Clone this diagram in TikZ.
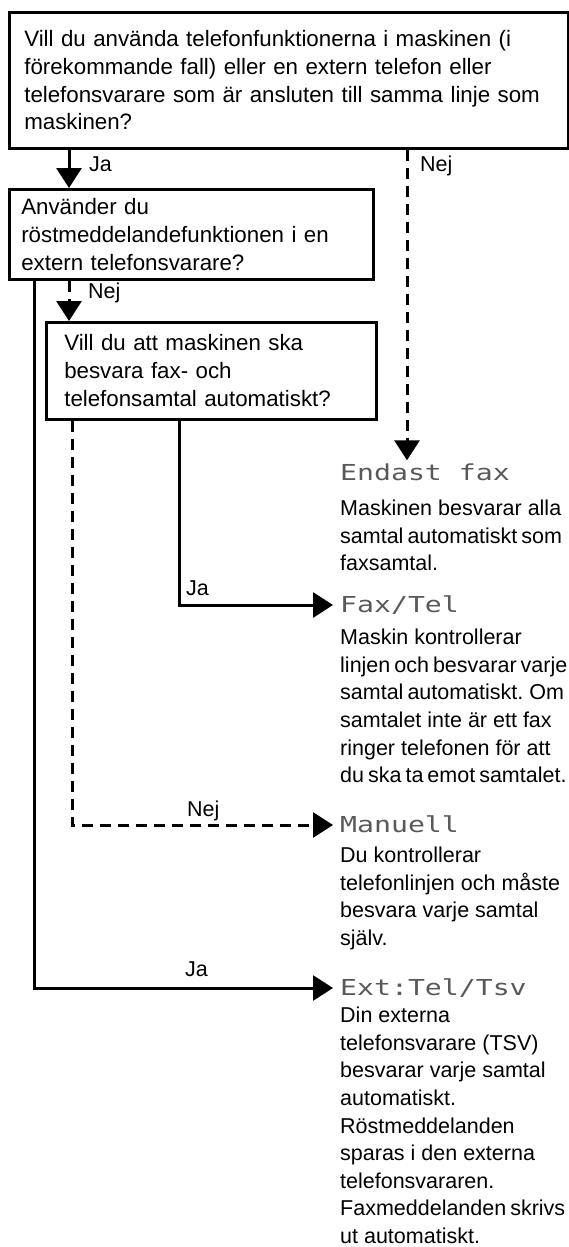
\documentclass[tikz,border=0pt]{standalone}
\usepackage{fontspec}
\setmainfont{Liberation Sans}
\newfontfamily\lcdfont{DejaVu Sans Mono}
\usepackage{graphicx}
\usetikzlibrary{arrows.meta}
\newcommand{\tightsp}[1]{{\spaceskip=4pt plus 1pt\relax #1}}
\newcommand{\lcd}[1]{\scalebox{1.28}[1]{#1}}
\begin{document}
\begin{tikzpicture}[x=1pt,y=-1pt,
  txt/.style={font=\fontsize{21.5pt}{27.6pt}\selectfont},
  boxtxt/.style={font=\fontsize{22.3pt}{27.8pt}\selectfont},
  qbox/.style={draw, line width=2.6pt, align=left, inner ysep=0pt, boxtxt, anchor=north west},
  ttl/.style={font=\fontsize{22pt}{22pt}\selectfont\lcdfont, text=black!65, inner sep=0pt, text height=15pt, text depth=0pt, anchor=west},
  desc/.style={txt, align=left, inner sep=0pt, anchor=north west},
  lbl/.style={txt, inner sep=0pt, anchor=base west},
  sol/.style={line width=3pt},
  dsh/.style={line width=3pt, dash pattern=on 11pt off 7pt},
  arr/.style={-{Triangle[length=20pt,width=25pt]}}
]
\useasboundingbox (0,0) rectangle (568,1247);

% question boxes
\node[qbox, minimum width=559pt, minimum height=136pt, inner xsep=15pt, text width=529pt] (b1) at (8,11)
  {Vill du använda telefonfunktionerna i maskinen (i\\förekommande fall) eller en extern telefon eller\\telefonsvarare som är ansluten till samma linje som\\maskinen?};
\node[qbox, minimum width=364pt, minimum height=90pt, inner xsep=12pt, text width=340pt] (b2) at (8,188)
  {Använder du\\röstmeddelandefunktionen i en\\extern telefonsvarare?};
\node[qbox, minimum width=330pt, minimum height=97pt, inner xsep=18pt, text width=294pt] (b3) at (45,321)
  {Vill du att maskinen ska\\besvara fax- och\\telefonsamtal automatiskt?};

% result titles
\node[ttl] (t1) at (340,473) {\lcd{Endast fax}};
\node[ttl] (t2) at (340,605) {\lcd{Fax/Tel}};
\node[ttl] (t3) at (340,825) {\lcd{Manuell}};
\node[ttl] (t4) at (340,988) {\lcd{Ext:Tel/Tsv}};

% result descriptions
\node[desc] (d1) at (340,500)
  {Maskinen besvarar alla\\\tightsp{samtal automatiskt som}\\faxsamtal.};
\node[desc] (d2) at (340,629)
  {Maskin kontrollerar\\\tightsp{linjen och besvarar varje}\\\tightsp{samtal automatiskt. Om}\\samtalet inte är ett fax\\ringer telefonen för att\\\tightsp{du ska ta emot samtalet.}};
\node[desc] (d3) at (340,847)
  {Du kontrollerar\\telefonlinjen och måste\\besvara varje samtal\\själv.};
\node[desc] (d4) at (340,1007)
  {Din externa\\telefonsvarare (TSV)\\besvarar varje samtal\\automatiskt.\\Röstmeddelanden\\sparas i den externa\\telefonsvararen.\\\tightsp{Faxmeddelanden skrivs}\\ut automatiskt.};

% labels
\node[lbl] (l1) at (89,171) {Ja};
\node[lbl] (l2) at (420,171) {Nej};
\node[lbl] (l3) at (88,298) {Nej};
\node[lbl] (l4) at (186,595) {Ja};
\node[lbl] (l5) at (187,816) {Nej};
\node[lbl] (l6) at (185,976) {Ja};

% connector columns
\coordinate (xa) at (69,0);
\coordinate (xn) at (407,0);
\coordinate (xl) at (34,0);
\coordinate (xj) at (179,0);
\coordinate (xd) at (72,0);

\draw[sol,arr] (b1.south -| xa) -- (b2.north -| xa);
\draw[dsh,arr] (b1.south -| xn) -- ([yshift=5pt]t1.north -| xn);
\draw[dsh,arr] (b2.south -| xa) -- (b3.north -| xa);
\draw[sol,arr] (b2.south -| xl) |- ([xshift=-7pt]t4.west);
\draw[sol,arr] (b3.south -| xj) |- ([xshift=-7pt]t2.west);
\draw[dsh,arr] (b3.south -| xd) |- ([xshift=-7pt]t3.west);
\end{tikzpicture}
\end{document}
